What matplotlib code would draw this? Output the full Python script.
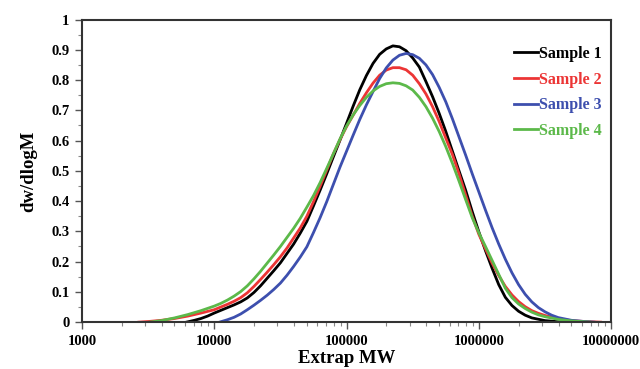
import matplotlib.pyplot as plt
from matplotlib.ticker import MultipleLocator, LogLocator, NullFormatter, FixedLocator

# molecular weight (log10) and dw/dlogM
s1_logm = [3.79, 3.85, 3.90, 3.95, 4.00, 4.05, 4.10, 4.15, 4.20, 4.25, 4.30, 4.35, 4.40,
           4.45, 4.50, 4.55, 4.60, 4.65, 4.70, 4.75, 4.80, 4.85, 4.90, 4.95, 5.00, 5.05,
           5.10, 5.15, 5.20, 5.25, 5.30, 5.35, 5.40, 5.45, 5.50, 5.55, 5.60, 5.65, 5.70,
           5.75, 5.80, 5.85, 5.90, 5.95, 6.00, 6.05, 6.10, 6.15, 6.20, 6.25, 6.30, 6.35,
           6.40, 6.50, 6.64]
s1_y = [0.000, 0.006, 0.012, 0.020, 0.030, 0.039, 0.048, 0.057, 0.067, 0.080, 0.098, 0.120, 0.145,
        0.170, 0.196, 0.227, 0.258, 0.294, 0.333, 0.384, 0.436, 0.490, 0.546, 0.601, 0.657, 0.714,
        0.768, 0.815, 0.855, 0.885, 0.903, 0.913, 0.910, 0.897, 0.873, 0.843, 0.795, 0.745, 0.690,
        0.630, 0.565, 0.500, 0.436, 0.365, 0.298, 0.236, 0.178, 0.124, 0.082, 0.055, 0.036, 0.023,
        0.014, 0.005, 0.000]

s2_logm = [3.43, 3.50, 3.60, 3.70, 3.80, 3.90, 4.00, 4.05, 4.10, 4.15, 4.20, 4.25, 4.30,
           4.35, 4.40, 4.45, 4.50, 4.55, 4.60, 4.65, 4.70, 4.75, 4.80, 4.85, 4.90, 4.95,
           5.00, 5.05, 5.10, 5.15, 5.20, 5.25, 5.30, 5.35, 5.40, 5.45, 5.50, 5.55, 5.60,
           5.65, 5.70, 5.75, 5.80, 5.85, 5.90, 5.95, 6.00, 6.05, 6.10, 6.15, 6.20, 6.25,
           6.30, 6.35, 6.40, 6.45, 6.50, 6.60, 6.70, 6.80, 6.92]
s2_y = [0.000, 0.002, 0.006, 0.012, 0.020, 0.030, 0.041, 0.050, 0.059, 0.069, 0.081, 0.097, 0.118,
        0.141, 0.165, 0.190, 0.216, 0.245, 0.278, 0.311, 0.350, 0.398, 0.449, 0.502, 0.556, 0.603,
        0.646, 0.684, 0.723, 0.758, 0.790, 0.816, 0.833, 0.841, 0.841, 0.834, 0.816, 0.788, 0.754,
        0.712, 0.663, 0.608, 0.554, 0.490, 0.420, 0.350, 0.290, 0.242, 0.195, 0.154, 0.118, 0.090,
        0.068, 0.051, 0.038, 0.029, 0.022, 0.011, 0.005, 0.002, 0.000]

s3_logm = [4.04, 4.10, 4.15, 4.20, 4.25, 4.30, 4.35, 4.40, 4.45, 4.50, 4.55, 4.60, 4.65,
           4.70, 4.75, 4.80, 4.85, 4.90, 4.95, 5.00, 5.05, 5.10, 5.15, 5.20, 5.25, 5.30,
           5.35, 5.40, 5.45, 5.50, 5.55, 5.60, 5.65, 5.70, 5.75, 5.80, 5.85, 5.90, 5.95,
           6.00, 6.05, 6.10, 6.15, 6.20, 6.25, 6.30, 6.35, 6.40, 6.45, 6.50, 6.55, 6.60,
           6.70, 6.80, 6.87]
s3_y = [0.000, 0.008, 0.016, 0.027, 0.041, 0.056, 0.072, 0.089, 0.108, 0.129, 0.155, 0.184, 0.215,
        0.249, 0.296, 0.345, 0.398, 0.455, 0.512, 0.565, 0.618, 0.670, 0.718, 0.762, 0.805, 0.840,
        0.866, 0.882, 0.888, 0.884, 0.872, 0.850, 0.818, 0.776, 0.728, 0.672, 0.612, 0.552, 0.490,
        0.430, 0.370, 0.312, 0.258, 0.208, 0.163, 0.124, 0.092, 0.067, 0.048, 0.034, 0.023, 0.015,
        0.006, 0.002, 0.000]

s4_logm = [3.51, 3.60, 3.70, 3.80, 3.90, 4.00, 4.05, 4.10, 4.15, 4.20, 4.25, 4.30, 4.35,
           4.40, 4.45, 4.50, 4.55, 4.60, 4.65, 4.70, 4.75, 4.80, 4.85, 4.90, 4.95, 5.00,
           5.05, 5.10, 5.15, 5.20, 5.25, 5.30, 5.35, 5.40, 5.45, 5.50, 5.55, 5.60, 5.65,
           5.70, 5.75, 5.80, 5.85, 5.90, 5.95, 6.00, 6.05, 6.10, 6.15, 6.20, 6.25, 6.30,
           6.35, 6.40, 6.45, 6.50, 6.60, 6.70, 6.84]
s4_y = [0.000, 0.005, 0.014, 0.025, 0.038, 0.053, 0.062, 0.073, 0.086, 0.101, 0.120, 0.143, 0.168,
        0.195, 0.222, 0.250, 0.280, 0.310, 0.343, 0.380, 0.418, 0.461, 0.508, 0.556, 0.605, 0.648,
        0.685, 0.716, 0.743, 0.764, 0.779, 0.788, 0.791, 0.789, 0.781, 0.767, 0.743, 0.712, 0.674,
        0.630, 0.580, 0.525, 0.466, 0.405, 0.345, 0.295, 0.250, 0.204, 0.158, 0.112, 0.081, 0.060,
        0.045, 0.033, 0.024, 0.018, 0.009, 0.004, 0.000]

names = ["Sample 1", "Sample 2", "Sample 3", "Sample 4"]
colors = ["#000000", "#ec3535", "#3d4fae", "#5cb94a"]
series = [(s1_logm, s1_y), (s2_logm, s2_y), (s3_logm, s3_y), (s4_logm, s4_y)]
xtick_labels = ["1000", "10000", "100000", "1000000", "10000000"]
ytick_labels = ["0", "0.1", "0.2", "0.3", "0.4", "0.5", "0.6", "0.7", "0.8", "0.9", "1"]

plt.rcParams['font.family'] = 'Liberation Serif'
plt.rcParams['font.weight'] = 'bold'

fig = plt.figure(figsize=(6.4, 3.69), dpi=100)
ax = fig.add_axes([0.128, 0.127, 0.827, 0.82])

for (lm, y), name, c in zip(series, names, colors):
    ax.plot([10 ** v for v in lm], y, color=c, lw=2, label=name)

ax.set_xscale('log')
ax.set_xlim(1000, 10000000)
ax.set_ylim(0, 1)

ax.xaxis.set_major_locator(FixedLocator([1e3, 1e4, 1e5, 1e6, 1e7]))
ax.set_xticklabels(xtick_labels)
ax.xaxis.set_minor_locator(LogLocator(base=10, subs=range(2, 10)))
ax.xaxis.set_minor_formatter(NullFormatter())
ax.set_yticks([i / 10 for i in range(11)])
ax.set_yticklabels(ytick_labels)
ax.yaxis.set_minor_locator(MultipleLocator(0.05))

ax.tick_params(which='major', length=5, width=1, color='#555555', labelsize=10.5, pad=4)
ax.tick_params(which='minor', length=3, width=0.8, color='#888888')

for sp in ax.spines.values():
    sp.set_color('#333333')
    sp.set_linewidth(1.5)

ax.set_xlabel("Extrap MW", fontsize=13.5, fontweight='bold', labelpad=2)
ax.set_ylabel("dw/dlogM", fontsize=13.5, fontweight='bold', labelpad=10)

leg = ax.legend(loc='upper right', bbox_to_anchor=(1.01, 0.96), frameon=False,
                fontsize=11.5, handlelength=1.5, handletextpad=0.1, labelspacing=0.6)
for txt, c in zip(leg.get_texts(), colors):
    txt.set_color(c)

fig.savefig("out.png", dpi=100)
